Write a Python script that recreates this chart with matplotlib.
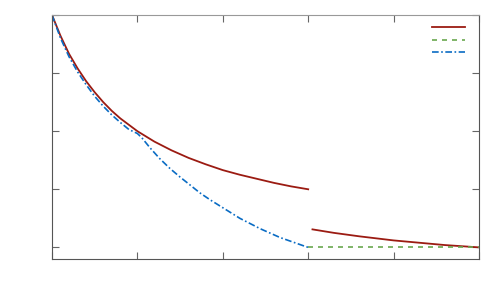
import numpy as np
import matplotlib
matplotlib.use("Agg")
import matplotlib.pyplot as plt

# values
x_red1 = [0.0, 0.1, 0.2, 0.3, 0.4, 0.5, 0.6, 0.7, 0.8, 0.9, 1.0, 1.2, 1.4, 1.6, 1.8,
          2.0, 2.2, 2.4, 2.6, 2.8, 3.0]
y_red1 = [4.0, 3.64, 3.33, 3.08, 2.86, 2.67, 2.5, 2.35, 2.22, 2.11, 2.0, 1.82, 1.67,
          1.54, 1.43, 1.33, 1.25, 1.18, 1.11, 1.05, 1.0]

x_red2 = [3.05, 3.3, 3.6, 4.0, 4.3, 4.6, 5.0]
y_red2 = [0.31, 0.25, 0.19, 0.12, 0.08, 0.04, 0.0]

x_green = [3.0, 5.0]
y_green = [0.0, 0.0]

x_blue = [0.0, 0.1, 0.2, 0.3, 0.4, 0.5, 0.6, 0.7, 0.8, 0.9, 1.0, 1.05, 1.15, 1.26,
          1.38, 1.5, 1.62, 1.73, 1.85, 1.97, 2.08, 2.2, 2.44, 2.67, 2.94, 3.0]
y_blue = [4.0, 3.6, 3.28, 3.02, 2.8, 2.6, 2.43, 2.28, 2.15, 2.03, 1.96, 1.89, 1.71,
          1.53, 1.36, 1.21, 1.07, 0.94, 0.82, 0.71, 0.61, 0.50, 0.32, 0.17, 0.03, 0.0]

red = "#9b1b12"
green = "#6aa84f"
blue = "#0a6cc4"

fig = plt.figure(figsize=(5, 3), dpi=100)
ax = fig.add_axes([52 / 500, 1 - 259 / 300, (479 - 52) / 500, (259 - 15) / 300])

l1, = ax.plot(x_red1, y_red1, color=red, lw=1.3)
ax.plot(x_red2, y_red2, color=red, lw=1.3)
l2, = ax.plot(x_green, y_green, color=green, lw=1.2, ls=(0, (3, 3)))
l3, = ax.plot(x_blue, y_blue, color=blue, lw=1.2, ls=(0, (4, 1.5, 1, 1.5)))

ax.set_xlim(0, 5)
ax.set_ylim(-0.2, 4)
ax.set_xticks(range(6))
ax.set_yticks(range(5))
ax.tick_params(direction="in", length=5, top=True, right=True,
               labelbottom=False, labelleft=False, color="#666666")
for s in ax.spines.values():
    s.set_color("#555555")
ax.spines["top"].set_color("#999999")

ax.legend([l1, l2, l3], [" ", " ", " "], loc="upper left",
          bbox_to_anchor=(432 / 500, 1 - 23 / 300), bbox_transform=fig.transFigure,
          frameon=False, fontsize=8, handlelength=3.0, handletextpad=0.0,
          borderpad=0, borderaxespad=0, labelspacing=0.22)

fig.savefig("out.png", dpi=100)
